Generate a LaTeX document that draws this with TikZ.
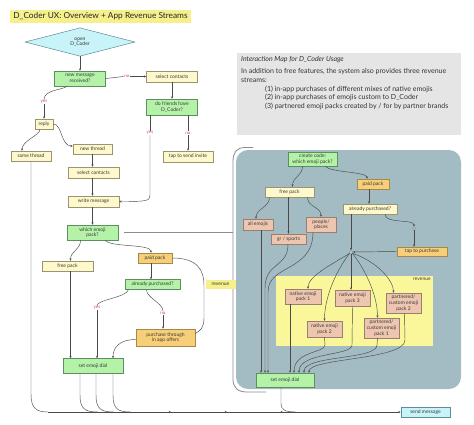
\documentclass[tikz,border=0pt]{standalone}
\usepackage{fontspec}
\setmainfont{Lato}
\usetikzlibrary{arrows.meta,shapes.geometric,decorations.markings}
\definecolor{grnF}{HTML}{B4F2A8}
\definecolor{grnD}{HTML}{5E8F5E}
\definecolor{ylwF}{HTML}{FDF9CC}
\definecolor{ylwD}{HTML}{9C9470}
\definecolor{orgF}{HTML}{F7CF78}
\definecolor{orgD}{HTML}{A88848}
\definecolor{pnkF}{HTML}{EEC6B0}
\definecolor{pnkD}{HTML}{9A7E70}
\definecolor{cynF}{HTML}{C8F3F8}
\definecolor{cynD}{HTML}{5C8E94}
\definecolor{panelF}{HTML}{A3BCC3}
\definecolor{revF}{HTML}{F9F79A}
\definecolor{descF}{HTML}{E5E5E5}
\definecolor{titleF}{HTML}{F6F08C}
\definecolor{lineC}{HTML}{4A4A4A}
\definecolor{lblC}{HTML}{D8407A}
\definecolor{bracketC}{HTML}{8C8C8C}
\definecolor{dotF}{HTML}{B8C9CD}
\definecolor{dotD}{HTML}{7F9AA0}
\begin{document}
\begin{tikzpicture}[x=1pt,y=-1pt,
  txt/.style={font=\fontsize{5}{5.7}\selectfont, text=black!78},
  box/.style={txt, draw, line width=0.5pt, inner sep=0.5pt, align=center},
  grn/.style={box, fill=grnF, draw=grnD},
  ylw/.style={box, fill=ylwF, draw=ylwD},
  org/.style={box, fill=orgF, draw=orgD},
  pnk/.style={box, fill=pnkF, draw=pnkD},
  cyn/.style={box, fill=cynF, draw=cynD},
  sz/.style 2 args={minimum width=#1, minimum height=#2},
  conn/.style={draw=lineC, line width=0.45pt, -{Stealth[length=2.4pt,width=2.2pt]}},
  plain/.style={draw=lineC, line width=0.45pt},
  gline/.style={draw=bracketC, line width=0.8pt},
  lbl/.style={font=\fontsize{4.5}{5}\selectfont, text=lblC, inner sep=0.6pt, fill=white},
  dot/.style={circle, minimum size=3.6pt, inner sep=0pt, fill=dotF, draw=dotD, line width=0.3pt},
]
\useasboundingbox (0,0) rectangle (474,424);

% ---------- title and description ----------
\node[fill=titleF, inner sep=0pt, minimum width=181pt, minimum height=13pt,
      font=\fontsize{8.3}{9}\selectfont, text=black!85] (title) at (100.5,16.5)
      {D\_Coder UX: Overview + App Revenue Streams};
\node[fill=descF, minimum width=224pt, minimum height=82pt, inner sep=0pt] (desc) at (349,94) {};
\node[anchor=north west, align=left, font=\fontsize{7}{8.7}\selectfont, text=black!80, inner sep=0pt]
  (desctxt) at (241,56)
  {\textit{Interaction Map for D\_Coder Usage}\\[3.6pt]
   In addition to free features, the system also provides three revenue\\
   streams:\\
   \hspace*{24pt}(1) in-app purchases of different mixes of native emojis\\
   \hspace*{24pt}(2) in-app purchases of emojis custom to D\_Coder\\
   \hspace*{24pt}(3) partnered emoji packs created by / for by partner brands};

% ---------- panel ----------
\node[fill=panelF, rounded corners=12pt, minimum width=225pt, minimum height=239pt, inner sep=0pt]
  (panel) at (348.5,269.5) {};
\draw[gline] (253,147.5) -- (245,147.5) .. controls (237,147.5) and (233,152) .. (233,161)
  -- (233,379) .. controls (233,388) and (238,392) .. (247,392) -- (266,392);
\node[fill=revF, minimum width=157pt, minimum height=70pt, inner sep=0pt] (revbox) at (354.5,311) {};
\node[txt, anchor=north east, inner sep=0pt] (revlab) at (431,277.5) {revenue};

% ---------- left flow nodes ----------
\node[diamond, draw=cynD, fill=cynF, line width=0.5pt, minimum width=110pt, minimum height=27pt,
      inner sep=0pt, txt, align=center] (open) at (80,42) {open\\D\_Coder};
\node[grn, sz={51pt}{15pt}] (nm) at (80,78.5) {new message\\received?};
\node[lbl] (no1) at (127,76.5) {no};
\node[ylw, sz={51pt}{11pt}] (sc1) at (172,76.5) {select contacts};
\node[grn, sz={51pt}{16pt}] (dfh) at (172,107) {do friends have\\D\_Coder?};
\node[lbl] (yes2) at (150,133) {yes};
\node[lbl] (no2) at (188,133) {no};
\node[ylw, sz={50pt}{11pt}] (tsi) at (188,156.5) {tap to send invite};
\node[lbl] (yes1) at (44,102) {yes};
\node[ylw, sz={18pt}{10pt}] (reply) at (44,124) {reply};
\node[ylw, sz={40pt}{10pt}] (same) at (31,156) {same thread};
\node[ylw, sz={39pt}{10pt}] (nt) at (92.5,149) {new thread};
\node[ylw, sz={51pt}{11pt}] (sc2) at (93.5,172.5) {select contacts};
\node[ylw, sz={51pt}{11pt}] (wm) at (93.5,201.5) {write message};
\node[grn, sz={51pt}{15pt}] (wep) at (92.5,232.5) {which emoji\\pack?};
\node[ylw, sz={51pt}{10pt}] (fp) at (67.5,266) {free pack};
\node[org, sz={34pt}{10pt}] (pp) at (155,258) {paid pack};
\node[grn, sz={55pt}{10pt}] (ap) at (152.5,284.5) {already purchased?};
\node[lbl] (yes3) at (97,308) {yes};
\node[lbl] (no3) at (163,313) {no};
\node[org, sz={59pt}{17pt}] (pt) at (165.5,337.5) {purchase through\\in app offers};
\node[grn, sz={60pt}{15pt}] (sed) at (93,366) {set emoji dial};
\node[cyn, sz={49pt}{10pt}] (send) at (425.5,412) {send message};

% ---------- panel nodes ----------
\node[grn, sz={49pt}{14pt}] (cc) at (312.5,159) {create code:\\which emoji pack?};
\node[org, sz={32pt}{10pt}] (pp2) at (373,184) {paid pack};
\node[ylw, sz={49pt}{10pt}] (fp2) at (289.5,192) {free pack};
\node[ylw, sz={54pt}{10pt}] (ap2) at (370,209) {already purchased?};
\node[pnk, sz={30pt}{11pt}] (ae) at (258,224.5) {all emojis};
\node[pnk, sz={30pt}{15pt}] (pl) at (321,224.5) {people/\\places};
\node[pnk, sz={35pt}{10pt}] (gs) at (288.5,239) {gr / sports};
\node[dot] (m2) at (414,228.5) {};
\node[dot] (m1) at (351,252) {};
\node[org, sz={50pt}{9pt}] (ttp) at (422,251.5) {tap to purchase};
\node[pnk, sz={36pt}{15pt}] (n1) at (303,296.5) {native emoji\\pack 1};
\node[pnk, sz={35pt}{16pt}] (n3) at (352.5,298) {native emoji\\pack 3};
\node[pnk, sz={35pt}{20pt}] (p2) at (403.5,303) {partnered/\\custom emoji\\pack 2};
\node[pnk, sz={35pt}{16pt}] (n2) at (324.5,329) {native emoji\\pack 2};
\node[pnk, sz={35pt}{20pt}] (p1) at (381.5,328) {partnered/\\custom emoji\\pack 1};
\node[grn, sz={58pt}{14pt}] (sed2) at (285,380) {set emoji dial};

% ---------- left flow connectors ----------
\draw[conn] (open.south) -- (nm.north);
\draw[plain] (nm.east) -- (no1.west);
\draw[conn] (no1.east) -- (sc1.west);
\draw[conn] (sc1.south) -- (dfh.north);
\draw[plain] (dfh.south -| yes2) -- (yes2.north);
\draw[conn] (yes2.south) -- (150,195) .. controls (150,201) and (147,201.5) .. (wm.east);
\draw[plain] (dfh.south -| no2) -- (no2.north);
\draw[conn] (no2.south) -- (tsi.north -| no2);
\draw[plain] ([xshift=-13pt]nm.south) .. controls +(-5,4) and +(0,-10) .. (yes1.north);
\draw[conn] (yes1.south) -- (reply.north);
\draw[conn] ([xshift=-4pt]reply.south) .. controls +(0,6) and +(0,-10) .. ([xshift=-9pt]same.north);
\draw[conn] (reply.east) .. controls +(9,0) and +(-12,0) .. ([yshift=3pt]nt.west);
\draw[conn] (nt.south) -- (nt.south |- sc2.north);
\draw[conn] ([xshift=-1pt]sc2.south) -- ([xshift=-1pt]wm.north);
\draw[conn] ([xshift=-1pt]wm.south) -- (wep.north);
\draw[conn] ([xshift=-12pt]wep.south) .. controls +(0,10) and +(0,-10) .. ([xshift=3pt]fp.north);
\draw[conn] ([xshift=13pt]wep.south) .. controls +(3,7) and +(0,-9) .. ([xshift=-4pt]pp.north);
\draw[conn] ([xshift=-4pt]pp.south) -- ([xshift=-4pt]pp.south |- ap.north);
\draw[plain] (pp.east) .. controls +(25,0) and +(0,-15) .. (204,285) -- (204,318)
  .. controls (204,328) and (200,331) .. ([yshift=4pt]pt.east);
\node[fill=titleF, txt, inner sep=0pt, minimum width=30pt, minimum height=9pt] (rev) at (220.5,284) {revenue};
\draw[plain] ([xshift=-24pt]ap.south) .. controls +(-3,8) and +(0,-6) .. (yes3.north);
\draw[conn] (yes3.south) -- (yes3.south |- sed.north);
\draw[plain] ([xshift=-6pt]ap.south) .. controls +(0,8) and +(0,-8) .. (no3.north);
\draw[conn] (no3.south) -- (no3.south |- pt.north);
\draw[conn] ([yshift=-2pt]pt.west) .. controls +(-17,0) and +(0,-10) .. ([xshift=20pt]sed.north);
\draw[conn] ([xshift=3pt]fp.south) -- ([xshift=3pt]fp.south |- sed.north);
\draw[gline] ([xshift=6pt]wep.east) -- (233,232.5);

% ---------- bottom lines to send message ----------
\coordinate (join) at (48,412);
\draw[plain] (same.south -| 31,0) -- (31,394) .. controls (31,408) and (36,412) .. (join);
\draw[plain] ([xshift=-13pt]sed.south) -- (80,395) .. controls (80,409) and (85,412) .. (98,412);
\draw[plain] ([xshift=3pt]sed.south) -- (96,395) .. controls (96,409) and (101,412) .. (114,412);
\draw[plain] ([xshift=20pt]sed.south) -- (113,395) .. controls (113,409) and (118,412) .. (131,412);
\draw[plain] ([xshift=-4pt]sed2.south) -- (281,403) .. controls (281,410) and (285,412) .. (296,412);
\draw[conn, postaction={decorate}, decoration={markings,
    mark=at position 123pt with {\arrow{Stealth[length=2.4pt,width=2.2pt]}},
    mark=at position 179pt with {\arrow{Stealth[length=2.4pt,width=2.2pt]}},
    mark=at position 235pt with {\arrow{Stealth[length=2.4pt,width=2.2pt]}}}]
  (join) -- (send.west);

% ---------- panel connectors ----------
\draw[conn] ([xshift=-10pt]cc.south) .. controls +(0,10) and +(0,-10) .. ([xshift=3pt]fp2.north);
\draw[conn] ([xshift=13pt]cc.south) .. controls +(3,6) and +(0,-7) .. ([xshift=-6pt]pp2.north);
\draw[conn] ([xshift=-4pt]pp2.south) -- ([xshift=-4pt]pp2.south |- ap2.north);
\draw[conn] ([xshift=-20pt]fp2.south) .. controls +(0,10) and +(0,-10) .. ([xshift=-2pt]ae.north);
\draw[conn] ([xshift=-1pt]fp2.south) -- ([xshift=-1pt]fp2.south |- gs.north);
\draw[conn] ([xshift=18pt]fp2.south) .. controls +(0,10) and +(0,-10) .. (pl.north);
\draw[conn] ([xshift=-19pt]ap2.south) -- (m1.north);
\draw[conn] ([xshift=15pt]ap2.south) .. controls +(0,10) and +(0,-8) .. (m2.north);
\draw[conn] (m2.south) -- (m2.south |- ttp.north);
\draw[conn] (ttp.west) -- (m1.east);
\draw[conn] (m1.south west) .. controls +(-20,12) and +(0,-12) .. ([xshift=5pt]n1.north);
\draw[conn] (m1.south west) .. controls +(-12,15) and +(0,-25) .. (n2.north);
\draw[conn] (m1.south) -- (m1.south |- n3.north);
\draw[conn] (m1.south east) .. controls +(10,12) and +(0,-25) .. ([xshift=-4pt]p1.north);
\draw[conn] (m1.south east) .. controls +(25,8) and +(0,-12) .. ([xshift=-10pt]p2.north);
\draw[conn] ([xshift=3pt]ae.south) -- ([xshift=-24pt]sed2.north);
\draw[conn] ([xshift=-0.5pt]gs.south) .. controls (288,268) and (265,262) .. (265,288) -- ([xshift=-20pt]sed2.north);
\draw[conn] ([xshift=-8pt]pl.south) .. controls (313,272) and (268,264) .. (268,292) -- ([xshift=-17pt]sed2.north);
\draw[conn] ([xshift=-13pt]n1.south) -- ([xshift=5pt]sed2.north);
\draw[conn] (n2.south) -- (325,345) .. controls (325,353) and (294,351) .. ([xshift=9pt]sed2.north);
\draw[conn] (n3.south) -- (352,345) .. controls (352,356) and (299,352) .. ([xshift=14pt]sed2.north);
\draw[conn] ([xshift=-4pt]p1.south) -- (377,345) .. controls (377,360) and (304,355) .. ([xshift=19pt]sed2.north);
\draw[conn] ([xshift=1pt]p2.south) -- (405,340) .. controls (405,360) and (309,358) .. ([xshift=24pt]sed2.north);
\end{tikzpicture}
\end{document}
